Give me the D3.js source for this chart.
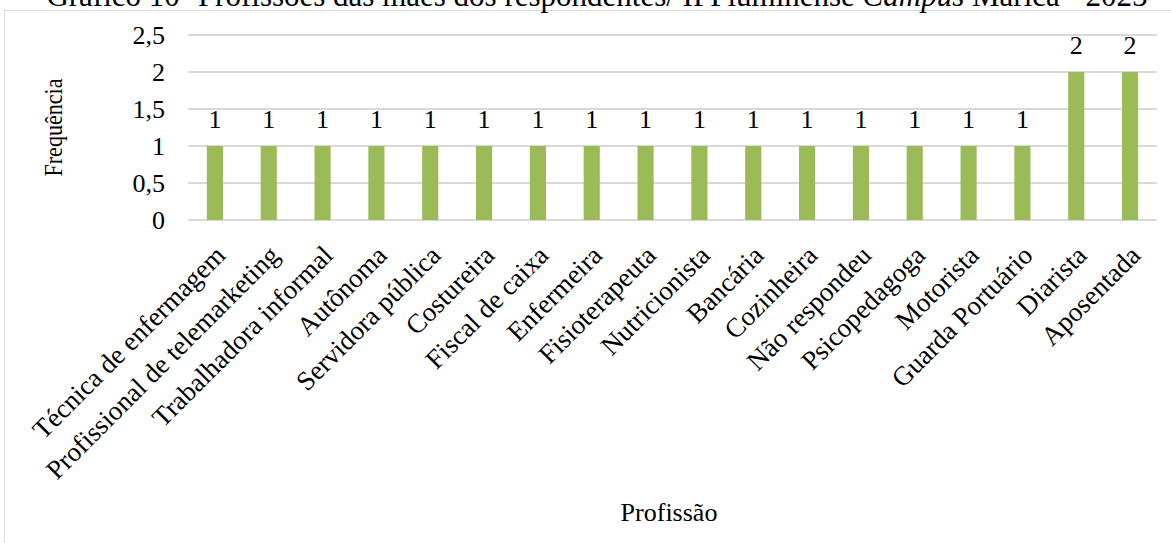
<!DOCTYPE html>
<html>
<head>
<meta charset="utf-8">
<script src="https://cdn.jsdelivr.net/npm/d3@7"></script>
<style>
  body { margin: 0; background: #fff; }
</style>
</head>
<body>
<div class="chart"></div>
<script>
// categories and values
const profissoes = ["Técnica de enfermagem", "Profissional de telemarketing", "Trabalhadora informal",
  "Autônoma", "Servidora pública", "Costureira", "Fiscal de caixa", "Enfermeira", "Fisioterapeuta",
  "Nutricionista", "Bancária", "Cozinheira", "Não respondeu", "Psicopedagoga", "Motorista",
  "Guarda Portuário", "Diarista", "Aposentada"]
const frequencias = [1, 1, 1, 1, 1, 1, 1, 1, 1, 1, 1, 1, 1, 1, 1, 1, 2, 2]
const yTicks = [0, 0.5, 1, 1.5, 2, 2.5]

const svgWidth = 1171, svgHeight = 543
const margin = { top: 35, left: 188, bottom: 323, right: 14 }
const serif = "'Liberation Serif', 'Times New Roman', serif"

const svg = d3.select('.chart').append('svg')
    .attr('width', svgWidth)
    .attr('height', svgHeight)
    .style('font-family', serif)

// outer frame
svg.append("rect")
    .attr("x", 4.5).attr("y", 10.5)
    .attr("width", svgWidth + 10).attr("height", svgHeight + 10)
    .attr("fill", "none")
    .attr("stroke", "#d9d9d9")

// title (cut at top like the reference)
const title = svg.append("text")
    .attr("x", 597).attr("y", 6)
    .attr("text-anchor", "middle")
    .style("font-size", "31px")
title.append("tspan").text("Gráfico 10- Profissões das mães dos respondentes/ IFFluminense ")
title.append("tspan").style("font-style", "italic").text("Campus")
title.append("tspan").text(" Maricá - 2025")

//SCALES
const x = d3.scaleBand()
    .domain(profissoes)
    .range([margin.left, svgWidth - margin.right])
    .paddingInner(0.7)
    .paddingOuter(0.35)

const y = d3.scaleLinear()
    .domain([0, 2.5])
    .range([svgHeight - margin.bottom, margin.top])

//GRIDLINES
svg.append("g")
    .selectAll("line")
    .data(yTicks)
    .join("line")
    .attr("x1", margin.left)
    .attr("x2", svgWidth - margin.right)
    .attr("y1", d => Math.round(y(d)))
    .attr("y2", d => Math.round(y(d)))
    .attr("stroke", "#d9d9d9")
    .attr("stroke-width", 2)

//Y AXIS
const y_axis = d3.axisLeft(y)
    .tickValues(yTicks)
    .tickSize(0)
    .tickPadding(0)
    .tickFormat(d => String(d).replace(".", ","))

svg.append("g")
    .attr("transform", `translate(${margin.left - 23}, 0)`)
    .call(y_axis)
    .call(g => g.select(".domain").remove())
    .selectAll("text")
    .attr("fill", "#000")
    .style("font-size", "26px")
    .style("font-family", serif)

//BARS
svg.append("g")
    .selectAll("rect")
    .data(frequencias)
    .join("rect")
    .attr("x", (d, i) => x(profissoes[i]))
    .attr("y", d => y(d))
    .attr("width", x.bandwidth())
    .attr("height", d => y(0) - y(d))
    .attr("fill", "#9bbb59")

//VALUE LABELS
svg.append("g")
    .selectAll("text")
    .data(frequencias)
    .join("text")
    .attr("x", (d, i) => x(profissoes[i]) + x.bandwidth() / 2)
    .attr("y", d => y(d) - 18)
    .attr("text-anchor", "middle")
    .style("font-size", "26px")
    .text(d => d)

//X AXIS LABELS
const x_axis = d3.axisBottom(x).tickSize(0).tickPadding(0)
svg.append("g")
    .attr("transform", `translate(0, ${y(0)})`)
    .call(x_axis)
    .call(g => g.select(".domain").remove())
    .selectAll("text")
    .attr("dy", null)
    .attr("y", 0)
    .attr("fill", "#000")
    .attr("text-anchor", "end")
    .attr("transform", "translate(12, 37) rotate(-45)")
    .style("font-size", "27px")
    .style("font-family", serif)

//AXIS TITLES
svg.append("text")
    .attr("transform", `translate(62, ${(y(0) + y(2.5)) / 2}) rotate(-90) scale(0.85, 1)`)
    .attr("text-anchor", "middle")
    .style("font-size", "26px")
    .text("Frequência")

svg.append("text")
    .attr("x", 669).attr("y", 521)
    .attr("text-anchor", "middle")
    .style("font-size", "26px")
    .text("Profissão")
</script>
</body>
</html>
